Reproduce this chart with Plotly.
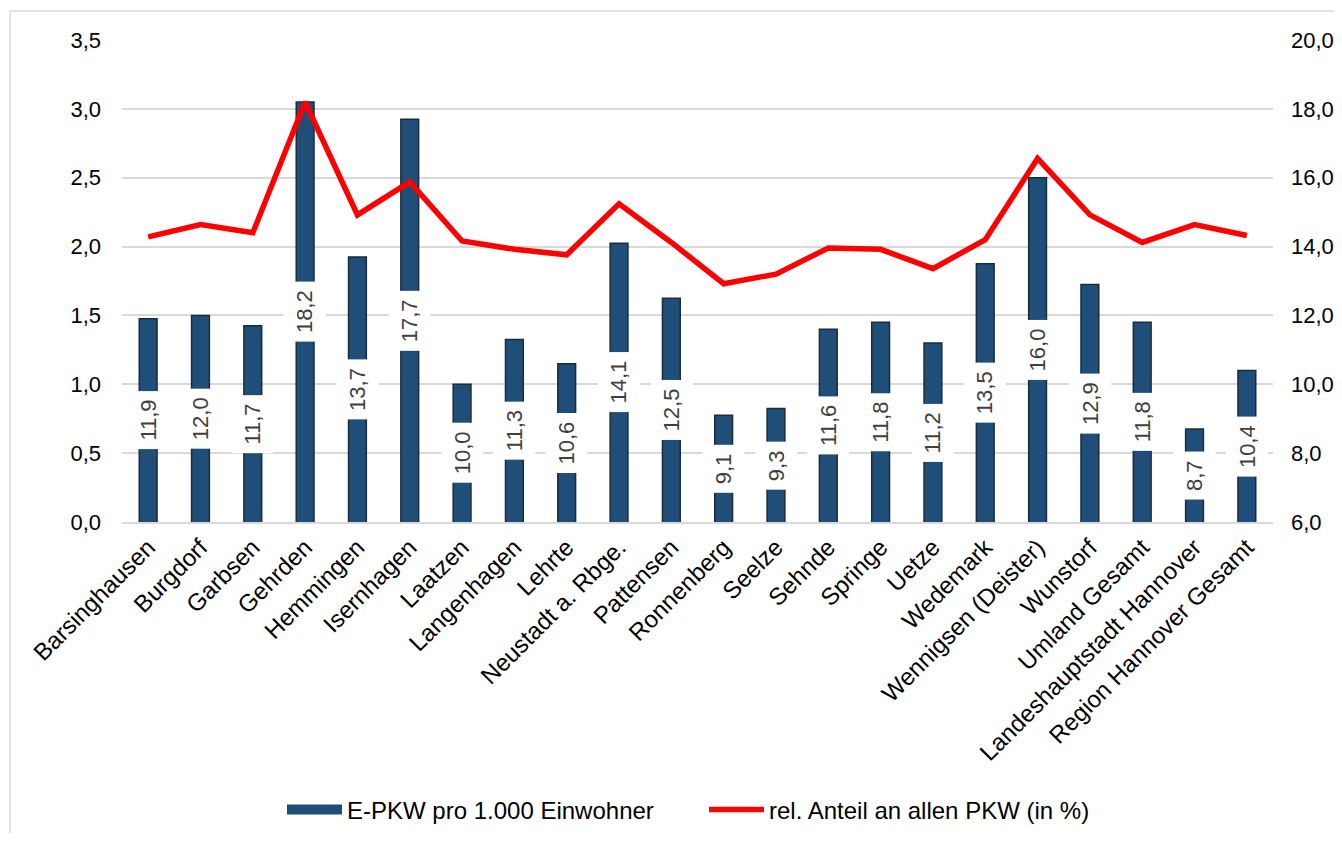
import plotly.graph_objects as go

# E-PKW in der Region Hannover
orte = ['Barsinghausen', 'Burgdorf', 'Garbsen', 'Gehrden', 'Hemmingen', 'Isernhagen',
        'Laatzen', 'Langenhagen', 'Lehrte', 'Neustadt a. Rbge.', 'Pattensen', 'Ronnenberg',
        'Seelze', 'Sehnde', 'Springe', 'Uetze', 'Wedemark', 'Wennigsen (Deister)',
        'Wunstorf', 'Umland Gesamt', 'Landeshauptstadt Hannover', 'Region Hannover Gesamt']

epkw_pro_1000 = [11.9, 12.0, 11.7, 18.2, 13.7, 17.7, 10.0, 11.3, 10.6, 14.1, 12.5, 9.1,
                 9.3, 11.6, 11.8, 11.2, 13.5, 16.0, 12.9, 11.8, 8.7, 10.4]

anteil_pkw = [2.07, 2.16, 2.10, 3.05, 2.23, 2.47, 2.04, 1.98, 1.94, 2.31, 2.03, 1.73,
              1.80, 1.99, 1.98, 1.84, 2.05, 2.64, 2.23, 2.03, 2.16, 2.08]

FONT = 'Liberation Sans, Arial, sans-serif'
GRID = '#d9d9d9'
NAVY = '#1F4E79'

# the page puts the figure 8px in from the top left corner,
# so keep the figure small enough to fit the window without scrollbars
OFF = 8
W, H = 1342 - 2 * OFF, 841 - 2 * OFF
L, T = 122 - OFF, 40 - OFF
R = W - (1273 - OFF)
B = H - (522 - OFF)
pw, ph = W - L - R, H - T - B


def px_x(p):
    # screen x pixel -> paper coordinate
    return (p - OFF - L) / pw


def px_y(p):
    # screen y pixel -> paper coordinate
    return (T + ph - (p - OFF)) / ph


fig = go.Figure()

fig.add_trace(go.Bar(
    x=orte, y=epkw_pro_1000, yaxis='y',
    name='E-PKW pro 1.000 Einwohner', showlegend=False,
    marker=dict(color=NAVY, line=dict(color='#1c2b3b', width=1.5)),
    width=0.34,
))

# legend entry for the bars: a thick stroke looks like Excel's wide box
fig.add_trace(go.Scatter(
    x=[None], y=[None], yaxis='y', mode='lines',
    name='E-PKW pro 1.000 Einwohner',
    line=dict(color=NAVY, width=12),
))

fig.add_trace(go.Scatter(
    x=orte, y=anteil_pkw, yaxis='y2', mode='lines',
    name='rel. Anteil an allen PKW (in %)',
    line=dict(color='#FF0000', width=5.5),
))

# value labels, rotated, in the middle of each visible bar
for ort, v in zip(orte, epkw_pro_1000):
    fig.add_annotation(
        x=ort, y=(6 + v) / 2, xref='x', yref='y',
        text=f'{v:.1f}'.replace('.', ','), textangle=-90, showarrow=False,
        font=dict(family=FONT, size=22, color='#404040'),
        bgcolor='white', borderpad=8,
    )

# outer chart frame (right and bottom edges run off the page)
fig.add_shape(
    type='rect', xref='paper', yref='paper',
    x0=px_x(10), x1=px_x(1360),
    y0=px_y(860), y1=px_y(11),
    line=dict(color=GRID, width=1.5), fillcolor='rgba(0,0,0,0)', layer='below',
)

fig.update_layout(
    width=W, height=H,
    margin=dict(l=L, r=R, t=T, b=B, autoexpand=False),
    paper_bgcolor='white', plot_bgcolor='white',
    separators=',.',
    font=dict(family=FONT, size=22, color='#000000'),
    xaxis=dict(
        tickangle=-45, showline=True, linecolor=GRID, linewidth=1.5,
        ticks='', tickfont=dict(size=24), showgrid=False, automargin=False,
    ),
    yaxis=dict(
        side='right', range=[6, 20], dtick=2, tickformat='.1f',
        showgrid=False, zeroline=False, ticks='', ticklabelstandoff=17,
        automargin=False,
    ),
    yaxis2=dict(
        side='left', overlaying='y', range=[0, 3.5], dtick=0.5, tickformat='.1f',
        showgrid=True, gridcolor=GRID, gridwidth=1.5, zeroline=False,
        ticks='', ticklabelstandoff=20, automargin=False,
    ),
    legend=dict(
        orientation='h', x=px_x(282), xanchor='left', y=px_y(810), yanchor='middle',
        font=dict(size=24), itemwidth=55, entrywidth=352, traceorder='normal',
        bgcolor='rgba(0,0,0,0)',
    ),
    showlegend=True,
)

fig.write_html('out.html')
